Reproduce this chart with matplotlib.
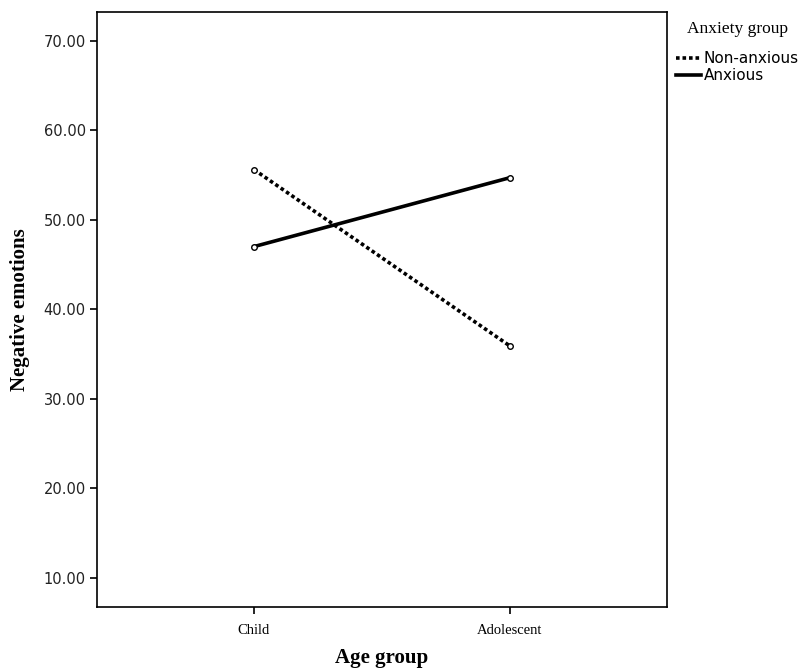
import numpy as np
import matplotlib.pyplot as plt
from matplotlib.font_manager import FontProperties
from matplotlib.lines import Line2D

# data
age_groups = ['Child', 'Adolescent']
non_anxious = [55.6, 35.9]
anxious = [47.0, 54.7]
y_ticks = [10, 20, 30, 40, 50, 60, 70]

fig = plt.figure(figsize=(8.05, 6.72), dpi=100)
ax = fig.add_axes([0.1205, 0.0967, 0.708, 0.8855])

x = np.arange(len(age_groups))
dot = (0, (1, 0.8))
ax.plot(x, non_anxious, color='black', lw=2.6, ls=dot,
        marker='o', ms=4, mfc='white', mec='black', mew=1)
ax.plot(x, anxious, color='black', lw=2.6, ls='-',
        marker='o', ms=4, mfc='white', mec='black', mew=1)

ax.set_xlim(-0.613, 1.613)
ax.set_ylim(6.76, 73.2)
ax.set_xticks(x)
ax.set_xticklabels(age_groups, family='Liberation Serif', fontsize=10.5)
ax.set_yticks(y_ticks)
ax.set_yticklabels(['%.2f' % v for v in y_ticks], fontsize=10.5, color='#222222')
ax.tick_params(direction='out', length=5, width=1.2, pad=3)
ax.tick_params(axis='x', pad=7)

ax.set_xlabel('Age group', family='Liberation Serif', fontweight='bold', fontsize=15, va='center')
ax.set_ylabel('Negative emotions', family='Liberation Serif', fontweight='bold', fontsize=15, va='center')
ax.xaxis.set_label_coords(0.5, -0.086)
ax.yaxis.set_label_coords(-0.135, 0.5)
for s in ax.spines.values():
    s.set_linewidth(1.2)

handles = [Line2D([], [], color='black', lw=2.6, ls=dot),
           Line2D([], [], color='black', lw=2.6, ls='-')]
leg = ax.legend(handles, ['Non-anxious', 'Anxious'],
                loc='upper left', bbox_to_anchor=(1.0, 1.0), frameon=False,
                handlelength=1.6, handletextpad=0.2, labelspacing=0.15,
                borderaxespad=0.3, borderpad=0.3, fontsize=11,
                title='Anxiety group',
                title_fontproperties=FontProperties(family='Liberation Serif', size=12.5))
leg._legend_box.sep = 10

fig.savefig('out.png', dpi=100)
